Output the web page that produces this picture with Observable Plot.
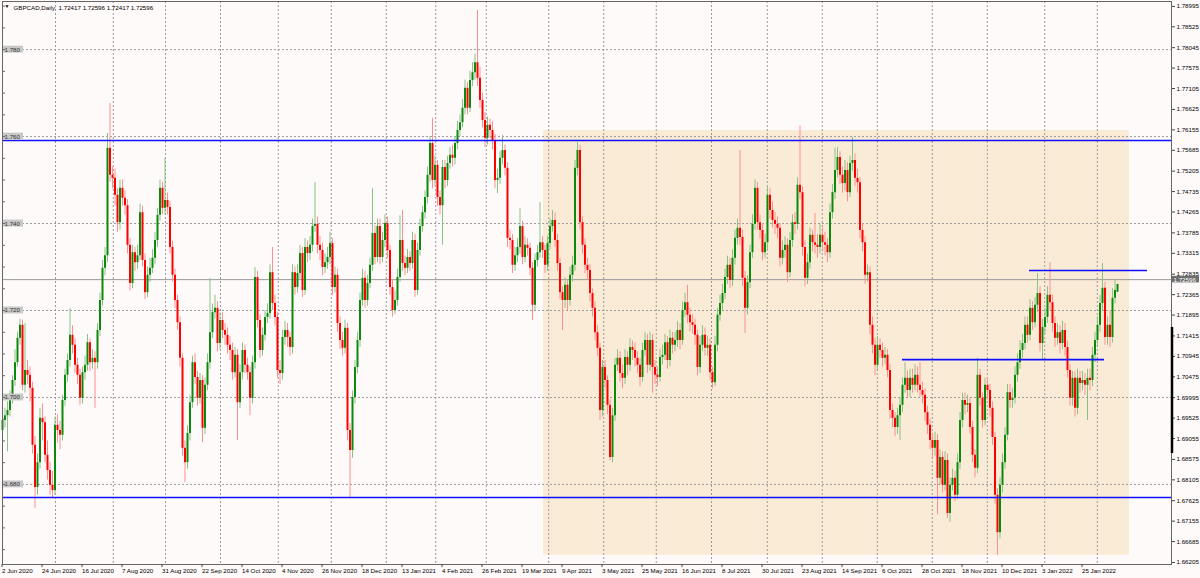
<!DOCTYPE html>
<html><head><meta charset="utf-8">
<script src="https://cdn.jsdelivr.net/npm/d3@7"></script>
<script src="https://cdn.jsdelivr.net/npm/@observablehq/plot@0.6"></script>
<style>
html,body{margin:0;padding:0;background:#fffafa;}
#chart{width:1200px;height:578px;overflow:hidden;}
</style></head><body><div id="chart"></div>
<script>
const symbolTitle = "GBPCAD,Daily";
const titleQuote = "1.72417 1.72596 1.72417 1.72596";

const open = [
1.6924,1.6947,1.6958,1.6970,1.6998,1.7039,1.7080,1.7136,1.7166,1.7028,
1.7062,1.7051,1.7021,1.6890,1.6793,1.6850,1.6952,1.6942,1.6867,1.6832,
1.6798,1.6786,1.6936,1.6924,1.6913,1.6993,1.7051,1.7085,1.7143,1.7120,
1.7074,1.7051,1.6998,1.7057,1.7074,1.7126,1.7080,1.7090,1.7080,1.7154,
1.7223,1.7297,1.7326,1.7573,1.7511,1.7504,1.7465,1.7402,1.7481,1.7458,
1.7441,1.7350,1.7262,1.7333,1.7310,1.7326,1.7425,1.7315,1.7241,1.7281,
1.7297,1.7320,1.7361,1.7419,1.7481,1.7435,1.7453,1.7437,1.7345,1.7281,
1.7223,1.7172,1.7090,1.6883,1.6850,1.6917,1.6988,1.7080,1.7046,1.6998,
1.7039,1.6929,1.7028,1.7080,1.7149,1.7195,1.7205,1.7124,1.7177,1.7154,
1.7143,1.7120,1.7108,1.7057,1.7097,1.6988,1.7057,1.7108,1.7074,1.7057,
1.6998,1.7080,1.7276,1.7177,1.7108,1.7143,1.7184,1.7193,1.7287,1.7216,
1.7184,1.7062,1.7055,1.7138,1.7154,1.7138,1.7115,1.7287,1.7253,1.7285,
1.7331,1.7246,1.7345,1.7331,1.7350,1.7393,1.7398,1.7350,1.7338,1.7299,
1.7310,1.7322,1.7354,1.7253,1.7281,1.7170,1.7131,1.7113,1.7159,1.6924,
1.6878,1.7000,1.7069,1.7131,1.7223,1.7274,1.7223,1.7262,1.7304,1.7377,
1.7322,1.7393,1.7322,1.7361,1.7400,1.7338,1.7253,1.7200,1.7223,1.7276,
1.7361,1.7308,1.7297,1.7322,1.7308,1.7361,1.7246,1.7338,1.7393,1.7425,
1.7460,1.7511,1.7584,1.7499,1.7534,1.7460,1.7441,1.7529,1.7499,1.7538,
1.7557,1.7550,1.7584,1.7614,1.7632,1.7665,1.7711,1.7665,1.7729,1.7747,
1.7770,1.7734,1.7683,1.7637,1.7596,1.7626,1.7614,1.7591,1.7499,1.7504,
1.7550,1.7568,1.7527,1.7366,1.7361,1.7304,1.7326,1.7345,1.7393,1.7322,
1.7350,1.7343,1.7297,1.7212,1.7315,1.7333,1.7356,1.7338,1.7304,1.7354,
1.7393,1.7407,1.7361,1.7308,1.7241,1.7223,1.7258,1.7223,1.7281,1.7304,
1.7527,1.7568,1.7402,1.7350,1.7304,1.7292,1.7239,1.7205,1.7149,1.7113,
1.6970,1.7069,1.7039,1.6982,1.6862,1.6958,1.7074,1.7090,1.7055,1.7044,
1.7092,1.7074,1.7115,1.7108,1.7090,1.7074,1.7046,1.7108,1.7131,1.7074,
1.7131,1.7069,1.7051,1.7046,1.7092,1.7097,1.7126,1.7085,1.7136,1.7120,
1.7131,1.7154,1.7131,1.7200,1.7218,1.7189,1.7172,1.7166,1.7143,1.7069,
1.7120,1.7143,1.7113,1.7120,1.7057,1.7034,1.7120,1.7189,1.7216,1.7239,
1.7276,1.7304,1.7269,1.7320,1.7366,1.7389,1.7368,1.7274,1.7205,1.7264,
1.7333,1.7398,1.7481,1.7402,1.7384,1.7333,1.7356,1.7465,1.7430,1.7407,
1.7398,1.7389,1.7320,1.7338,1.7350,1.7287,1.7361,1.7402,1.7398,1.7488,
1.7471,1.7345,1.7274,1.7310,1.7373,1.7356,1.7350,1.7345,1.7373,1.7356,
1.7350,1.7333,1.7425,1.7471,1.7522,1.7552,1.7511,1.7492,1.7522,1.7471,
1.7538,1.7545,1.7504,1.7494,1.7384,1.7356,1.7281,1.7287,1.7166,1.7120,
1.7074,1.7120,1.7108,1.7090,1.7097,1.7062,1.6970,1.6952,1.6931,1.6958,
1.6982,1.7028,1.7044,1.7016,1.7044,1.7028,1.7051,1.7028,1.7016,1.7005,
1.6965,1.6936,1.6901,1.6883,1.6901,1.6814,1.6862,1.6798,1.6855,1.6733,
1.6798,1.6814,1.6775,1.6850,1.6947,1.6993,1.6982,1.6986,1.6931,1.6867,
1.6837,1.7051,1.6998,1.6947,1.7028,1.7016,1.6975,1.6908,1.6775,1.6689,
1.6798,1.6850,1.6913,1.7011,1.6993,1.6998,1.7051,1.7080,1.7108,1.7124,
1.7166,1.7143,1.7205,1.7172,1.7212,1.7239,1.7124,1.7161,1.7184,1.7235,
1.7218,1.7170,1.7136,1.7149,1.7124,1.7154,1.7115,1.7062,1.6998,1.7044,
1.6975,1.7044,1.7032,1.7039,1.7028,1.7044,1.7039,1.7097,1.7131,1.7166,
1.7216,1.7251,1.7138,1.7166,1.7138,1.7228,1.7242];

const high = [
1.6985,1.6975,1.6990,1.7015,1.7050,1.7110,1.7150,1.7180,1.7178,1.7170,
1.7085,1.7070,1.7035,1.6910,1.6870,1.6975,1.6985,1.6955,1.6900,1.6850,
1.6830,1.6955,1.6960,1.6945,1.7005,1.7065,1.7100,1.7205,1.7165,1.7135,
1.7090,1.7065,1.7070,1.7095,1.7145,1.7135,1.7110,1.7105,1.7170,1.7240,
1.7315,1.7345,1.7607,1.7676,1.7530,1.7525,1.7480,1.7500,1.7500,1.7475,
1.7455,1.7365,1.7350,1.7345,1.7350,1.7445,1.7440,1.7330,1.7300,1.7320,
1.7340,1.7380,1.7435,1.7500,1.7495,1.7550,1.7470,1.7450,1.7360,1.7295,
1.7235,1.7185,1.7100,1.6900,1.6935,1.7005,1.7095,1.7100,1.7060,1.7055,
1.7050,1.7045,1.7100,1.7274,1.7215,1.7235,1.7220,1.7195,1.7195,1.7170,
1.7160,1.7140,1.7125,1.7115,1.7110,1.7075,1.7125,1.7120,1.7090,1.7070,
1.7095,1.7299,1.7290,1.7190,1.7160,1.7200,1.7215,1.7305,1.7345,1.7235,
1.7195,1.7085,1.7155,1.7175,1.7170,1.7150,1.7305,1.7300,1.7305,1.7350,
1.7345,1.7365,1.7360,1.7370,1.7410,1.7494,1.7415,1.7370,1.7355,1.7330,
1.7345,1.7380,1.7365,1.7300,1.7295,1.7185,1.7150,1.7178,1.7170,1.6940,
1.7015,1.7085,1.7150,1.7240,1.7295,1.7290,1.7280,1.7320,1.7480,1.7395,
1.7410,1.7410,1.7380,1.7420,1.7415,1.7350,1.7270,1.7245,1.7295,1.7418,
1.7430,1.7325,1.7340,1.7335,1.7380,1.7375,1.7355,1.7410,1.7440,1.7475,
1.7530,1.7600,1.7642,1.7555,1.7545,1.7475,1.7545,1.7545,1.7555,1.7575,
1.7580,1.7600,1.7635,1.7650,1.7685,1.7730,1.7725,1.7750,1.7770,1.7790,
1.7890,1.7760,1.7700,1.7655,1.7645,1.7640,1.7635,1.7605,1.7525,1.7565,
1.7603,1.7580,1.7540,1.7385,1.7375,1.7345,1.7365,1.7435,1.7405,1.7370,
1.7365,1.7355,1.7310,1.7330,1.7350,1.7448,1.7370,1.7350,1.7370,1.7410,
1.7430,1.7425,1.7375,1.7320,1.7255,1.7275,1.7270,1.7300,1.7325,1.7545,
1.7587,1.7580,1.7415,1.7365,1.7320,1.7305,1.7250,1.7220,1.7165,1.7125,
1.7085,1.7085,1.7050,1.6995,1.6975,1.7090,1.7110,1.7105,1.7075,1.7110,
1.7105,1.7135,1.7130,1.7125,1.7105,1.7090,1.7125,1.7150,1.7145,1.7150,
1.7145,1.7085,1.7070,1.7110,1.7120,1.7145,1.7140,1.7155,1.7150,1.7150,
1.7175,1.7170,1.7220,1.7240,1.7258,1.7205,1.7190,1.7180,1.7155,1.7140,
1.7165,1.7160,1.7140,1.7135,1.7070,1.7140,1.7205,1.7235,1.7260,1.7295,
1.7325,1.7320,1.7340,1.7385,1.7410,1.7568,1.7385,1.7290,1.7280,1.7350,
1.7420,1.7500,1.7495,1.7420,1.7400,1.7375,1.7485,1.7480,1.7450,1.7425,
1.7415,1.7400,1.7360,1.7370,1.7365,1.7380,1.7420,1.7425,1.7505,1.7625,
1.7485,1.7360,1.7330,1.7390,1.7385,1.7423,1.7375,1.7400,1.7390,1.7380,
1.7365,1.7445,1.7490,1.7573,1.7575,1.7565,1.7530,1.7545,1.7540,1.7555,
1.7598,1.7560,1.7525,1.7505,1.7400,1.7370,1.7305,1.7300,1.7185,1.7135,
1.7140,1.7135,1.7125,1.7115,1.7110,1.7075,1.6985,1.6965,1.6975,1.7000,
1.7045,1.7080,1.7060,1.7065,1.7065,1.7075,1.7070,1.7080,1.7035,1.7020,
1.6980,1.6950,1.6915,1.6920,1.6915,1.6880,1.6875,1.6875,1.6870,1.6815,
1.6835,1.6830,1.6870,1.6965,1.7010,1.7010,1.7005,1.7000,1.6945,1.6880,
1.7090,1.7065,1.7010,1.7045,1.7045,1.7030,1.6990,1.6920,1.6790,1.6815,
1.6870,1.6930,1.7030,1.7030,1.7020,1.7070,1.7100,1.7130,1.7145,1.7185,
1.7185,1.7225,1.7220,1.7230,1.7285,1.7255,1.7180,1.7205,1.7255,1.7310,
1.7235,1.7185,1.7170,1.7165,1.7175,1.7170,1.7130,1.7075,1.7060,1.7060,
1.7065,1.7060,1.7060,1.7055,1.7065,1.7065,1.7115,1.7150,1.7185,1.7235,
1.7308,1.7265,1.7185,1.7200,1.7250,1.7270,1.7260];

const low = [
1.6905,1.6930,1.6875,1.6955,1.6985,1.7025,1.7070,1.7120,1.7015,1.7010,
1.7030,1.6990,1.6870,1.6745,1.6775,1.6835,1.6900,1.6850,1.6810,1.6775,
1.6768,1.6775,1.6895,1.6880,1.6900,1.6980,1.7035,1.7070,1.7100,1.7055,
1.7030,1.6982,1.6985,1.7040,1.7060,1.7060,1.7065,1.6975,1.7065,1.7140,
1.7210,1.7280,1.7310,1.7495,1.7480,1.7440,1.7380,1.7385,1.7440,1.7420,
1.7330,1.7245,1.7250,1.7290,1.7295,1.7315,1.7300,1.7225,1.7230,1.7265,
1.7285,1.7305,1.7345,1.7405,1.7420,1.7420,1.7420,1.7330,1.7265,1.7205,
1.7155,1.7070,1.6865,1.6804,1.6835,1.6900,1.6975,1.7030,1.6980,1.6985,
1.6896,1.6915,1.7015,1.7065,1.7135,1.7180,1.7105,1.7110,1.7135,1.7120,
1.7100,1.7085,1.7040,1.7045,1.6901,1.6975,1.7040,1.7055,1.7040,1.6958,
1.6985,1.7065,1.7160,1.7090,1.7095,1.7130,1.7170,1.7180,1.7200,1.7165,
1.7045,1.7030,1.7040,1.7120,1.7115,1.7095,1.7100,1.7235,1.7240,1.7270,
1.7230,1.7235,1.7310,1.7315,1.7335,1.7380,1.7330,1.7315,1.7280,1.7285,
1.7295,1.7305,1.7235,1.7240,1.7150,1.7110,1.7095,1.7100,1.6900,1.6768,
1.6860,1.6985,1.7055,1.7115,1.7210,1.7205,1.7210,1.7250,1.7290,1.7305,
1.7310,1.7305,1.7310,1.7345,1.7320,1.7235,1.7185,1.7190,1.7210,1.7265,
1.7290,1.7280,1.7285,1.7290,1.7295,1.7230,1.7235,1.7325,1.7380,1.7410,
1.7445,1.7495,1.7480,1.7485,1.7440,1.7420,1.7350,1.7480,1.7485,1.7525,
1.7530,1.7535,1.7570,1.7600,1.7620,1.7650,1.7650,1.7655,1.7715,1.7730,
1.7715,1.7665,1.7620,1.7575,1.7580,1.7595,1.7570,1.7480,1.7469,1.7490,
1.7535,1.7510,1.7345,1.7340,1.7285,1.7290,1.7310,1.7330,1.7305,1.7310,
1.7325,1.7280,1.7177,1.7200,1.7300,1.7320,1.7320,1.7285,1.7290,1.7340,
1.7380,1.7345,1.7290,1.7225,1.7154,1.7205,1.7200,1.7210,1.7265,1.7290,
1.7510,1.7385,1.7330,1.7285,1.7270,1.7220,1.7185,1.7130,1.7095,1.6947,
1.6955,1.7020,1.6960,1.6855,1.6850,1.6945,1.7060,1.7035,1.7020,1.7030,
1.7050,1.7060,1.7085,1.7070,1.7055,1.7025,1.7035,1.7095,1.7055,1.7060,
1.7010,1.7030,1.7025,1.7035,1.7075,1.7085,1.7065,1.7070,1.7100,1.7105,
1.7115,1.7110,1.7120,1.7185,1.7170,1.7150,1.7145,1.7120,1.7050,1.7055,
1.7105,1.7095,1.7095,1.7040,1.7020,1.7025,1.7105,1.7175,1.7200,1.7225,
1.7260,1.7250,1.7255,1.7305,1.7350,1.7350,1.7255,1.7147,1.7190,1.7250,
1.7320,1.7385,1.7385,1.7365,1.7315,1.7320,1.7340,1.7410,1.7390,1.7375,
1.7365,1.7300,1.7305,1.7320,1.7264,1.7275,1.7345,1.7375,1.7385,1.7455,
1.7325,1.7255,1.7260,1.7295,1.7335,1.7330,1.7320,1.7330,1.7335,1.7325,
1.7310,1.7320,1.7410,1.7455,1.7505,1.7490,1.7470,1.7475,1.7450,1.7460,
1.7520,1.7485,1.7470,1.7365,1.7335,1.7260,1.7265,1.7145,1.7100,1.7050,
1.7060,1.7090,1.7070,1.7075,1.7045,1.6950,1.6930,1.6910,1.6915,1.6901,
1.6965,1.7010,1.7000,1.7000,1.7010,1.7015,1.7010,1.7000,1.6985,1.6945,
1.6915,1.6880,1.6860,1.6865,1.6730,1.6800,1.6780,1.6785,1.6722,1.6713,
1.6785,1.6760,1.6765,1.6835,1.6930,1.6960,1.6965,1.6915,1.6850,1.6815,
1.6825,1.6980,1.6930,1.6935,1.6995,1.6955,1.6890,1.6755,1.6637,1.6675,
1.6780,1.6835,1.6900,1.6975,1.6975,1.6985,1.7035,1.7065,1.7090,1.7110,
1.7125,1.7130,1.7155,1.7160,1.7195,1.7105,1.7085,1.7145,1.7170,1.7200,
1.7150,1.7115,1.7120,1.7100,1.7110,1.7095,1.7045,1.6980,1.6980,1.6955,
1.6960,1.7010,1.7015,1.7005,1.6947,1.7015,1.7025,1.7080,1.7115,1.7150,
1.7200,1.7120,1.7120,1.7115,1.7125,1.7215,1.7242];

const close = [
1.6947,1.6958,1.6970,1.6998,1.7039,1.7080,1.7136,1.7166,1.7028,1.7062,
1.7051,1.7021,1.6890,1.6793,1.6850,1.6952,1.6942,1.6867,1.6832,1.6798,
1.6786,1.6936,1.6924,1.6913,1.6993,1.7051,1.7085,1.7143,1.7120,1.7074,
1.7051,1.6998,1.7057,1.7074,1.7126,1.7080,1.7090,1.7080,1.7154,1.7223,
1.7297,1.7326,1.7573,1.7511,1.7504,1.7465,1.7402,1.7481,1.7458,1.7441,
1.7350,1.7262,1.7333,1.7310,1.7326,1.7425,1.7315,1.7241,1.7281,1.7297,
1.7320,1.7361,1.7419,1.7481,1.7435,1.7453,1.7437,1.7345,1.7281,1.7223,
1.7172,1.7090,1.6883,1.6850,1.6917,1.6988,1.7080,1.7046,1.6998,1.7039,
1.6929,1.7028,1.7080,1.7149,1.7195,1.7205,1.7124,1.7177,1.7154,1.7143,
1.7120,1.7108,1.7057,1.7097,1.6988,1.7057,1.7108,1.7074,1.7057,1.6998,
1.7080,1.7276,1.7177,1.7108,1.7143,1.7184,1.7193,1.7287,1.7216,1.7184,
1.7062,1.7055,1.7138,1.7154,1.7138,1.7115,1.7287,1.7253,1.7285,1.7331,
1.7246,1.7345,1.7331,1.7350,1.7393,1.7398,1.7350,1.7338,1.7299,1.7310,
1.7322,1.7354,1.7253,1.7281,1.7170,1.7131,1.7113,1.7159,1.6924,1.6878,
1.7000,1.7069,1.7131,1.7223,1.7274,1.7223,1.7262,1.7304,1.7377,1.7322,
1.7393,1.7322,1.7361,1.7400,1.7338,1.7253,1.7200,1.7223,1.7276,1.7361,
1.7308,1.7297,1.7322,1.7308,1.7361,1.7246,1.7338,1.7393,1.7425,1.7460,
1.7511,1.7584,1.7499,1.7534,1.7460,1.7441,1.7529,1.7499,1.7538,1.7557,
1.7550,1.7584,1.7614,1.7632,1.7665,1.7711,1.7665,1.7729,1.7747,1.7770,
1.7734,1.7683,1.7637,1.7596,1.7626,1.7614,1.7591,1.7499,1.7504,1.7550,
1.7568,1.7527,1.7366,1.7361,1.7304,1.7326,1.7345,1.7393,1.7322,1.7350,
1.7343,1.7297,1.7212,1.7315,1.7333,1.7356,1.7338,1.7304,1.7354,1.7393,
1.7407,1.7361,1.7308,1.7241,1.7223,1.7258,1.7223,1.7281,1.7304,1.7527,
1.7568,1.7402,1.7350,1.7304,1.7292,1.7239,1.7205,1.7149,1.7113,1.6970,
1.7069,1.7039,1.6982,1.6862,1.6958,1.7074,1.7090,1.7055,1.7044,1.7092,
1.7074,1.7115,1.7108,1.7090,1.7074,1.7046,1.7108,1.7131,1.7074,1.7131,
1.7069,1.7051,1.7046,1.7092,1.7097,1.7126,1.7085,1.7136,1.7120,1.7131,
1.7154,1.7131,1.7200,1.7218,1.7189,1.7172,1.7166,1.7143,1.7069,1.7120,
1.7143,1.7113,1.7120,1.7057,1.7034,1.7120,1.7189,1.7216,1.7239,1.7276,
1.7304,1.7269,1.7320,1.7366,1.7389,1.7368,1.7274,1.7205,1.7264,1.7333,
1.7398,1.7481,1.7402,1.7384,1.7333,1.7356,1.7465,1.7430,1.7407,1.7398,
1.7389,1.7320,1.7338,1.7350,1.7287,1.7361,1.7402,1.7398,1.7488,1.7471,
1.7345,1.7274,1.7310,1.7373,1.7356,1.7350,1.7345,1.7373,1.7356,1.7350,
1.7333,1.7425,1.7471,1.7522,1.7552,1.7511,1.7492,1.7522,1.7471,1.7538,
1.7545,1.7504,1.7494,1.7384,1.7356,1.7281,1.7287,1.7166,1.7120,1.7074,
1.7120,1.7108,1.7090,1.7097,1.7062,1.6970,1.6952,1.6931,1.6958,1.6982,
1.7028,1.7044,1.7016,1.7044,1.7028,1.7051,1.7028,1.7016,1.7005,1.6965,
1.6936,1.6901,1.6883,1.6901,1.6814,1.6862,1.6798,1.6855,1.6733,1.6798,
1.6814,1.6775,1.6850,1.6947,1.6993,1.6982,1.6986,1.6931,1.6867,1.6837,
1.7051,1.6998,1.6947,1.7028,1.7016,1.6975,1.6908,1.6775,1.6689,1.6798,
1.6850,1.6913,1.7011,1.6993,1.6998,1.7051,1.7080,1.7108,1.7124,1.7166,
1.7143,1.7205,1.7172,1.7212,1.7239,1.7124,1.7161,1.7184,1.7235,1.7218,
1.7170,1.7136,1.7149,1.7124,1.7154,1.7115,1.7062,1.6998,1.7044,1.6975,
1.7044,1.7032,1.7039,1.7028,1.7044,1.7039,1.7097,1.7131,1.7166,1.7216,
1.7251,1.7138,1.7166,1.7138,1.7228,1.7246,1.7260];

// date labels on the time axis (every 16 bars)
const dateTickBars = [0,16,32,48,64,80,96,112,128,144,160,176,192,208,224,240,256,272,288,304,320,336,352,368,384,400,416,432];
const dateTickLabels = ["2 Jun 2020","24 Jun 2020","16 Jul 2020","7 Aug 2020","31 Aug 2020","22 Sep 2020","14 Oct 2020","4 Nov 2020","26 Nov 2020","18 Dec 2020","13 Jan 2021","4 Feb 2021","26 Feb 2021","19 Mar 2021","9 Apr 2021","3 May 2021","25 May 2021","16 Jun 2021","8 Jul 2021","30 Jul 2021","23 Aug 2021","14 Sep 2021","6 Oct 2021","28 Oct 2021","18 Nov 2021","10 Dec 2021","3 Jan 2022","25 Jan 2022"];
// vertical grid (month starts, in bar units)
const monthGridBars = [21.2,44.3,65.2,87.2,110.3,131.5,153.5,173.3,193.5,218.5,240.5,261.5,283.6,305.9,327.9,349.9,371.9,393.9,416.9,437.9];
// horizontal grid levels with left labels
const gridLevels = [1.680,1.700,1.720,1.740,1.760,1.780];
const leftTickLevels = [1.665,1.670,1.675,1.680,1.685,1.690,1.695,1.700,1.705,1.710,1.715,1.720,1.725,1.730,1.735,1.740,1.745,1.750,1.755,1.760,1.765,1.770,1.775,1.780,1.785,1.790];
// right price scale
const priceAxisTicks = [1.78995,1.78525,1.78045,1.77575,1.77105,1.76625,1.76155,1.75685,1.75205,1.74735,1.74265,1.73785,1.73315,1.72835,1.72365,1.71895,1.71415,1.70945,1.70475,1.69995,1.69525,1.69055,1.68575,1.68105,1.67625,1.67155,1.66685,1.66205];
const bidLabel = "1.72596";
const bidLinePrice = 1.7271;
// drawn objects
const levelLines = [1.7591, 1.6770];
const segmentLines = [{x1:360.0, x2:440.8, price:1.7087},{x1:410.8, x2:458.0, price:1.7292}];
const zone = [{x1:216.4, x2:450.8, top:1.7614, bottom:1.6637}];
const scaleBar = [{top:1.7161, bottom:1.6871}];

const bars = close.map((c,i)=>({i, o:open[i], h:high[i], l:low[i], c}));
const isUp = d => d.c >= d.o;
const XR = 467.6;
const FS = 6.2;

const chart = Plot.plot({
  width:1200, height:578,
  marginLeft:2, marginRight:29, marginTop:1, marginBottom:14,
  style:{background:"#fffafa", fontFamily:"'Liberation Sans', Arial, sans-serif", fontSize:"6px", color:"#000", overflow:"visible"},
  x:{domain:[0, XR], axis:null},
  y:{domain:[1.66158, 1.79107], axis:null},
  color:{type:"identity"},
  marks:[
    Plot.rect(zone, {x1:"x1", x2:"x2", y1:"bottom", y2:"top", fill:"#faebd7"}),
    Plot.ruleY(gridLevels, {stroke:"#9a9a9a", strokeDasharray:"2,2", strokeWidth:1}),
    Plot.ruleX(monthGridBars, {stroke:"#9a9a9a", strokeDasharray:"2,2", strokeWidth:1}),
    Plot.ruleY([bidLinePrice], {stroke:"#9a9a9a", strokeWidth:1}),
    Plot.ruleX(bars, {x:"i", y1:"l", y2:"h", stroke:d => isUp(d) ? "#86c486" : "#ff8f8f", strokeWidth:1}),
    Plot.ruleX(bars, {x:"i", y1:"o", y2:"c", stroke:d => isUp(d) ? "#0a8a0a" : "#ff0000", strokeWidth:2}),
    Plot.ruleY(levelLines, {stroke:"#1010ff", strokeWidth:1.6}),
    Plot.ruleY(segmentLines, {y:"price", x1:"x1", x2:"x2", stroke:"#1010ff", strokeWidth:1.6}),
    // left grid labels
    Plot.rect(gridLevels, {x1:0, x2:8.4, y1:d => d - 0.0008, y2:d => d + 0.0008, fill:"#c8c8c8"}),
    Plot.text(gridLevels, {x:0, y:d => d, text:d => d.toFixed(3), textAnchor:"start", dx:2, fill:"#333", fontSize:FS}),
    Plot.ruleY(leftTickLevels, {x1:0, x2:1.2, stroke:"#666"}),
    Plot.frame({stroke:"#666"}),
    // right price axis
    Plot.axisY({anchor:"right", ticks:priceAxisTicks, tickFormat:d => d.toFixed(5), tickSize:3, tickPadding:2, fontSize:FS, label:null, stroke:"#444"}),
    Plot.ruleX(scaleBar, {x:XR, y1:"bottom", y2:"top", stroke:"#000", strokeWidth:2.5, dx:0.5}),
    Plot.rect([bidLinePrice], {x1:XR, x2:XR + 11.2, y1:d => d - 0.00075, y2:d => d + 0.00075, fill:"#6e6e6e"}),
    Plot.text([bidLinePrice], {x:XR, y:d => d, text:() => bidLabel, textAnchor:"start", dx:2, fill:"#fff", fontSize:FS}),
    // time axis
    Plot.axisX({anchor:"bottom", ticks:dateTickBars, tickFormat:d => dateTickLabels[dateTickBars.indexOf(d)], tickSize:3, tickPadding:1, textAnchor:"start", dx:-0.5, fontSize:FS, label:null, stroke:"#444"}),
    // title
    Plot.text([symbolTitle + "  " + titleQuote], {frameAnchor:"top-left", dx:11, dy:4, textAnchor:"start", lineAnchor:"top", fill:"#000", fontSize:FS}),
    Plot.text(["\u25BC"], {frameAnchor:"top-left", dx:2, dy:3, textAnchor:"start", lineAnchor:"top", fill:"#000", fontSize:5})
  ]
});
document.getElementById("chart").appendChild(chart);
</script>
</body></html>
